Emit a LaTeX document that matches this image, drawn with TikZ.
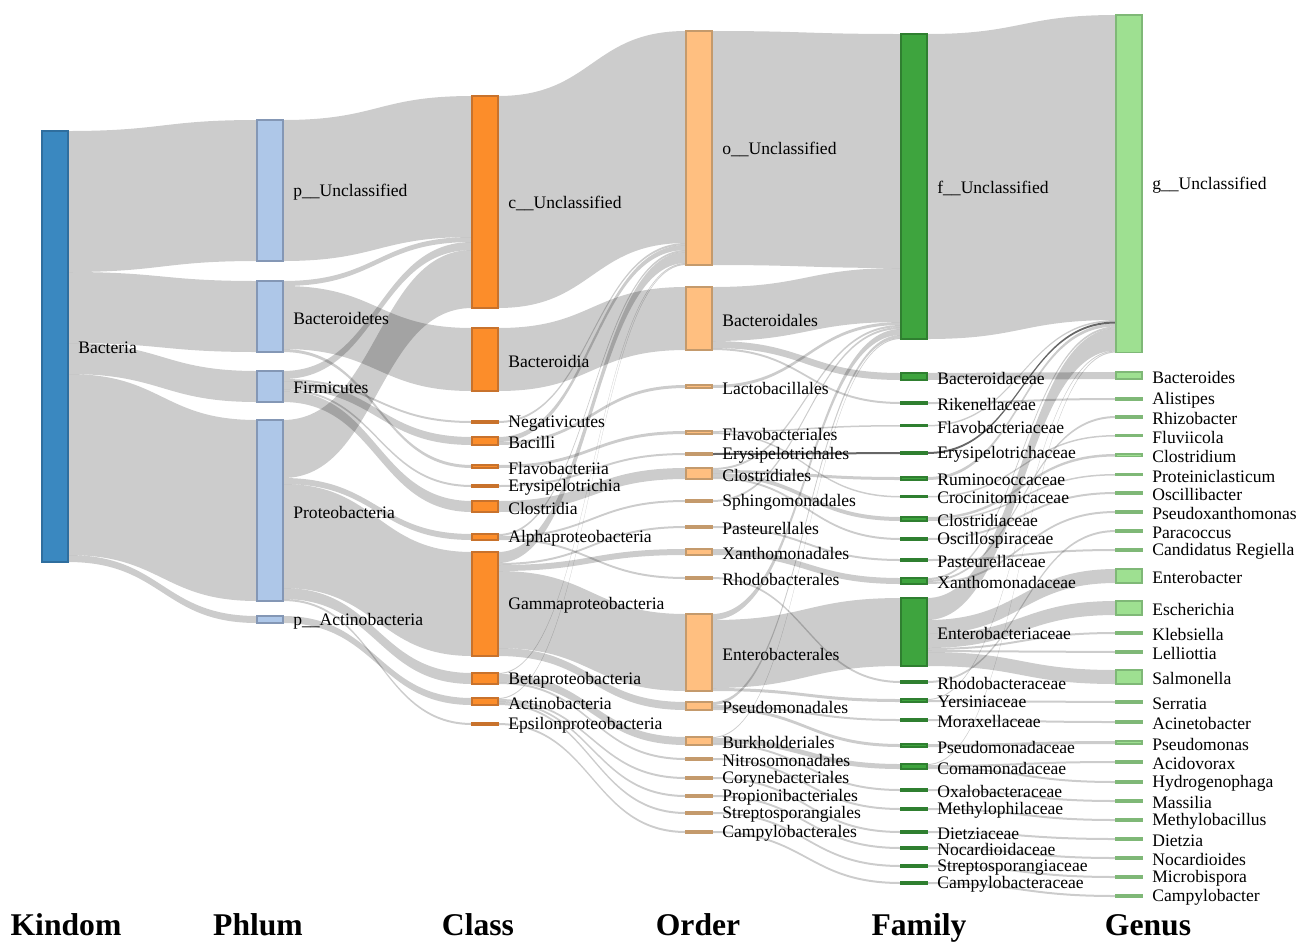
\documentclass[tikz,border=0pt]{standalone}
\usepackage{fontspec}
\setmainfont{Liberation Serif}
\usepackage{tikz}
\usetikzlibrary{calc}

\definecolor{kfill}{HTML}{3A88C0}\definecolor{kline}{HTML}{2F6E9E}
\definecolor{pfill}{HTML}{AEC7E8}\definecolor{pline}{HTML}{8497B5}
\definecolor{cfill}{HTML}{FC8D2A}\definecolor{cline}{HTML}{C8722C}
\definecolor{ofill}{HTML}{FFBF80}\definecolor{oline}{HTML}{C49A6C}
\definecolor{ffill}{HTML}{3EA43E}\definecolor{fline}{HTML}{2F7F30}
\definecolor{gfill}{HTML}{9EE091}\definecolor{gline}{HTML}{7FB877}

\pgfdeclarelayer{flows}
\pgfsetlayers{flows,main}

\tikzset{
  taxbar/.style={draw, inner sep=0pt, outer sep=0pt, minimum width=0.52cm, line width=0.6pt},
  kgd/.style={taxbar, fill=kfill, draw=kline},
  phy/.style={taxbar, fill=pfill, draw=pline},
  cls/.style={taxbar, fill=cfill, draw=cline},
  ord/.style={taxbar, fill=ofill, draw=oline},
  fam/.style={taxbar, fill=ffill, draw=fline},
  gen/.style={taxbar, fill=gfill, draw=gline},
  lbl/.style={anchor=west, inner sep=0pt, font=\fontsize{10}{12}\selectfont},
  ttl/.style={anchor=base, inner sep=0pt, font=\fontsize{18}{20}\selectfont\bfseries},
  flowfill/.style={fill=black, fill opacity=0.2},
  hl/.style={fill opacity=0.6},
}

% bar + label: style, name, x, top, height, text
\newcommand\taxon[6]{%
  \node[#1, minimum height={#5*0.02cm}, anchor=north west] (#2) at (#3,#4) {};
  \node[lbl] (#2-t) at ([xshift=0.2cm, yshift=-0.03cm]#2.east) {#6};}

% band: [style], source, offset, target, offset, width
\newcommand\flow[6][]{%
  \fill[flowfill,#1] ($(#2.north east)+(0,#3)$) .. controls +(94.5,0) and +(-94.5,0) ..
    ($(#4.north west)+(0,#5)$) -- ++(0,#6) .. controls +(-94.5,0) and +(94.5,0) ..
    ($(#2.north east)+(0,#3+#6)$) -- cycle;}

\begin{document}
\begin{tikzpicture}[x=0.02cm, y=-0.02cm]
  \useasboundingbox (0,0) rectangle (1308,941);

  % kingdom
  \taxon{kgd}{bac}{42}{131}{431}{Bacteria}

  % phylum
  \taxon{phy}{pun}{257}{120}{141}{p\_\_Unclassified}
  \taxon{phy}{bdt}{257}{281}{71}{Bacteroidetes}
  \taxon{phy}{fir}{257}{371}{31}{Firmicutes}
  \taxon{phy}{pro}{257}{420}{181}{Proteobacteria}
  \taxon{phy}{pac}{257}{616}{7}{p\_\_Actinobacteria}

  % class
  \taxon{cls}{cun}{472}{96}{212}{c\_\_Unclassified}
  \taxon{cls}{bia}{472}{328}{63}{Bacteroidia}
  \taxon{cls}{neg}{472}{421}{2}{Negativicutes}
  \taxon{cls}{bcl}{472}{437}{8}{Bacilli}
  \taxon{cls}{fla}{472}{465}{3}{Flavobacteriia}
  \taxon{cls}{ery}{472}{485}{2}{Erysipelotrichia}
  \taxon{cls}{clo}{472}{501}{11}{Clostridia}
  \taxon{cls}{alp}{472}{534}{6}{Alphaproteobacteria}
  \taxon{cls}{gam}{472}{552}{104}{Gammaproteobacteria}
  \taxon{cls}{bet}{472}{673}{11}{Betaproteobacteria}
  \taxon{cls}{act}{472}{698}{7}{Actinobacteria}
  \taxon{cls}{eps}{472}{723}{2}{Epsilonproteobacteria}

  % order
  \taxon{ord}{oun}{686}{31}{234}{o\_\_Unclassified}
  \taxon{ord}{bal}{686}{287}{63}{Bacteroidales}
  \taxon{ord}{lac}{686}{385}{3}{Lactobacillales}
  \taxon{ord}{flv}{686}{431}{3}{Flavobacteriales}
  \taxon{ord}{erl}{686}{453}{2}{Erysipelotrichales}
  \taxon{ord}{cll}{686}{468}{11}{Clostridiales}
  \taxon{ord}{sph}{686}{500}{2}{Sphingomonadales}
  \taxon{ord}{pas}{686}{526}{2}{Pasteurellales}
  \taxon{ord}{xan}{686}{549}{6}{Xanthomonadales}
  \taxon{ord}{rho}{686}{577}{2}{Rhodobacterales}
  \taxon{ord}{ent}{686}{614}{77}{Enterobacterales}
  \taxon{ord}{psm}{686}{702}{8}{Pseudomonadales}
  \taxon{ord}{bur}{686}{737}{8}{Burkholderiales}
  \taxon{ord}{nit}{686}{758}{2}{Nitrosomonadales}
  \taxon{ord}{cor}{686}{777}{2}{Corynebacteriales}
  \taxon{ord}{ppb}{686}{795}{2}{Propionibacteriales}
  \taxon{ord}{stp}{686}{812}{2}{Streptosporangiales}
  \taxon{ord}{cpl}{686}{831}{2}{Campylobacterales}

  % family
  \taxon{fam}{fun}{901}{34}{305}{f\_\_Unclassified}
  \taxon{fam}{bcd}{901}{373}{7}{Bacteroidaceae}
  \taxon{fam}{rik}{901}{402}{2}{Rikenellaceae}
  \taxon{fam}{flc}{901}{425}{1.5}{Flavobacteriaceae}
  \taxon{fam}{erc}{901}{452}{2}{Erysipelotrichaceae}
  \taxon{fam}{rum}{901}{477}{3}{Ruminococcaceae}
  \taxon{fam}{cro}{901}{496}{1.5}{Crocinitomicaceae}
  \taxon{fam}{clc}{901}{517}{4}{Clostridiaceae}
  \taxon{fam}{osc}{901}{538}{2}{Oscillospiraceae}
  \taxon{fam}{psc}{901}{559}{2}{Pasteurellaceae}
  \taxon{fam}{xac}{901}{578}{6}{Xanthomonadaceae}
  \taxon{fam}{enc}{901}{598}{68}{Enterobacteriaceae}
  \taxon{fam}{rhc}{901}{681}{2}{Rhodobacteraceae}
  \taxon{fam}{yer}{901}{699}{3}{Yersiniaceae}
  \taxon{fam}{mor}{901}{719}{2}{Moraxellaceae}
  \taxon{fam}{pmc}{901}{744}{3}{Pseudomonadaceae}
  \taxon{fam}{com}{901}{764}{5}{Comamonadaceae}
  \taxon{fam}{oxa}{901}{789}{2}{Oxalobacteraceae}
  \taxon{fam}{mep}{901}{808}{2}{Methylophilaceae}
  \taxon{fam}{die}{901}{831}{2}{Dietziaceae}
  \taxon{fam}{noc}{901}{847}{2}{Nocardioidaceae}
  \taxon{fam}{stc}{901}{865}{2}{Streptosporangiaceae}
  \taxon{fam}{cac}{901}{882}{2}{Campylobacteraceae}

  % genus
  \taxon{gen}{gun}{1116}{15}{337.5}{g\_\_Unclassified}
  \taxon{gen}{bds}{1116}{372}{7}{Bacteroides}
  \taxon{gen}{ali}{1116}{398}{2}{Alistipes}
  \taxon{gen}{rhi}{1116}{416}{2}{Rhizobacter}
  \taxon{gen}{flu}{1116}{435}{1.5}{Fluviicola}
  \taxon{gen}{cld}{1116}{454}{2.5}{Clostridium}
  \taxon{gen}{prc}{1116}{474}{1.5}{Proteiniclasticum}
  \taxon{gen}{osb}{1116}{492}{2}{Oscillibacter}
  \taxon{gen}{pxa}{1116}{511}{2}{Pseudoxanthomonas}
  \taxon{gen}{par}{1116}{530}{2}{Paracoccus}
  \taxon{gen}{can}{1116}{549}{2}{Candidatus Regiella}
  \taxon{gen}{enb}{1116}{569}{14}{Enterobacter}
  \taxon{gen}{esc}{1116}{601}{14}{Escherichia}
  \taxon{gen}{kle}{1116}{632}{2}{Klebsiella}
  \taxon{gen}{lel}{1116}{651}{2}{Lelliottia}
  \taxon{gen}{sal}{1116}{670}{14}{Salmonella}
  \taxon{gen}{ser}{1116}{701}{2}{Serratia}
  \taxon{gen}{aci}{1116}{721}{2}{Acinetobacter}
  \taxon{gen}{psd}{1116}{741}{3}{Pseudomonas}
  \taxon{gen}{acv}{1116}{761}{2}{Acidovorax}
  \taxon{gen}{hyd}{1116}{781}{2}{Hydrogenophaga}
  \taxon{gen}{mas}{1116}{800}{2}{Massilia}
  \taxon{gen}{mtb}{1116}{819}{2}{Methylobacillus}
  \taxon{gen}{dtz}{1116}{838}{2}{Dietzia}
  \taxon{gen}{ncd}{1116}{857}{2}{Nocardioides}
  \taxon{gen}{mic}{1116}{876}{2}{Microbispora}
  \taxon{gen}{cmp}{1116}{895}{2}{Campylobacter}

  % column titles
  \node[ttl] (tKin) at (66,935) {Kindom};
  \node[ttl] (tPhy) at (258,935) {Phlum};
  \node[ttl] (tCla) at (478,935) {Class};
  \node[ttl] (tOrd) at (698,935) {Order};
  \node[ttl] (tFam) at (919,935) {Family};
  \node[ttl] (tGen) at (1148,935) {Genus};

  \begin{pgfonlayer}{flows}
  % kingdom -> phylum
  \flow{bac}{0}{pun}{0}{141}
  \flow{bac}{141}{bdt}{0}{71}
  \flow{bac}{212}{fir}{0}{31}
  \flow{bac}{243}{pro}{0}{181}
  \flow{bac}{424}{pac}{0}{7}
  % phylum -> class
  \flow{pun}{0}{cun}{0}{141}
  \flow{bdt}{0}{cun}{141}{5}
  \flow{bdt}{5}{bia}{0}{63}
  \flow{bdt}{68}{fla}{0}{3}
  \flow{fir}{0}{cun}{146}{8}
  \flow{fir}{8}{neg}{0}{2}
  \flow{fir}{10}{bcl}{0}{8}
  \flow{fir}{18}{ery}{0}{2}
  \flow{fir}{20}{clo}{0}{11}
  \flow{pro}{0}{cun}{154}{58}
  \flow{pro}{58}{alp}{0}{6}
  \flow{pro}{64}{gam}{0}{104}
  \flow{pro}{168}{bet}{0}{11}
  \flow{pro}{179}{eps}{0}{2}
  \flow{pac}{0}{act}{0}{7}
  % class -> order
  \flow{cun}{0}{oun}{0}{212}
  \flow{bia}{0}{bal}{0}{63}
  \flow{neg}{0}{oun}{212}{2}
  \flow{bcl}{0}{oun}{214}{5}
  \flow{bcl}{5}{lac}{0}{3}
  \flow{fla}{0}{flv}{0}{3}
  \flow{ery}{0}{erl}{0}{2}
  \flow{clo}{0}{cll}{0}{11}
  \flow{alp}{0}{oun}{219}{2}
  \flow{alp}{2}{sph}{0}{2}
  \flow{alp}{4}{rho}{0}{2}
  \flow{gam}{0}{oun}{221}{11}
  \flow{gam}{11}{pas}{0}{2}
  \flow{gam}{13}{xan}{0}{6}
  \flow{gam}{19}{ent}{0}{77}
  \flow{gam}{96}{psm}{0}{8}
  \flow{bet}{0}{oun}{232}{1}
  \flow{bet}{1}{bur}{0}{8}
  \flow{bet}{9}{nit}{0}{2}
  \flow{act}{0}{oun}{233}{1}
  \flow{act}{1}{cor}{0}{2}
  \flow{act}{3}{ppb}{0}{2}
  \flow{act}{5}{stp}{0}{2}
  \flow{eps}{0}{cpl}{0}{2}
  % order -> family
  \flow{oun}{0}{fun}{0}{234}
  \flow{bal}{0}{fun}{234}{54}
  \flow{bal}{54}{bcd}{0}{7}
  \flow{bal}{61}{rik}{0}{2}
  \flow{lac}{0}{fun}{288}{3}
  \flow{flv}{0}{flc}{0}{1.5}
  \flow{flv}{1.5}{cro}{0}{1.5}
  \flow[hl]{erl}{0}{erc}{0}{2}
  \flow{cll}{0}{fun}{291}{2}
  \flow{cll}{2}{rum}{0}{3}
  \flow{cll}{5}{clc}{0}{4}
  \flow{cll}{9}{osc}{0}{2}
  \flow{sph}{0}{fun}{293}{2}
  \flow{pas}{0}{psc}{0}{2}
  \flow{xan}{0}{xac}{0}{6}
  \flow{rho}{0}{rhc}{0}{2}
  \flow{ent}{0}{fun}{295}{6}
  \flow{ent}{6}{enc}{0}{68}
  \flow{ent}{74}{yer}{0}{3}
  \flow{psm}{0}{fun}{301}{3}
  \flow{psm}{3}{mor}{0}{2}
  \flow{psm}{5}{pmc}{0}{3}
  \flow{bur}{0}{fun}{304}{1}
  \flow{bur}{1}{com}{0}{5}
  \flow{bur}{6}{oxa}{0}{2}
  \flow{nit}{0}{mep}{0}{2}
  \flow{cor}{0}{die}{0}{2}
  \flow{ppb}{0}{noc}{0}{2}
  \flow{stp}{0}{stc}{0}{2}
  \flow{cpl}{0}{cac}{0}{2}
  % family -> genus
  \flow{fun}{0}{gun}{0}{305}
  \flow{bcd}{0}{bds}{0}{7}
  \flow{rik}{0}{ali}{0}{2}
  \flow{flc}{0}{gun}{305}{1.5}
  \flow[hl]{erc}{0}{gun}{306.5}{2}
  \flow{rum}{0}{gun}{308.5}{3}
  \flow{cro}{0}{flu}{0}{1.5}
  \flow{clc}{0}{cld}{0}{2.5}
  \flow{clc}{2.5}{prc}{0}{1.5}
  \flow{osc}{0}{osb}{0}{2}
  \flow{psc}{0}{can}{0}{2}
  \flow{xac}{0}{gun}{311.5}{2}
  \flow{xac}{2}{rhi}{0}{2}
  \flow{xac}{4}{pxa}{0}{2}
  \flow{enc}{0}{gun}{313.5}{22}
  \flow{enc}{22}{enb}{0}{14}
  \flow{enc}{36}{esc}{0}{14}
  \flow{enc}{50}{kle}{0}{2}
  \flow{enc}{52}{lel}{0}{2}
  \flow{enc}{54}{sal}{0}{14}
  \flow{rhc}{0}{par}{0}{2}
  \flow{yer}{0}{gun}{335.5}{1}
  \flow{yer}{1}{ser}{0}{2}
  \flow{mor}{0}{aci}{0}{2}
  \flow{pmc}{0}{psd}{0}{3}
  \flow{com}{0}{gun}{336.5}{1}
  \flow{com}{1}{acv}{0}{2}
  \flow{com}{3}{hyd}{0}{2}
  \flow{oxa}{0}{mas}{0}{2}
  \flow{mep}{0}{mtb}{0}{2}
  \flow{die}{0}{dtz}{0}{2}
  \flow{noc}{0}{ncd}{0}{2}
  \flow{stc}{0}{mic}{0}{2}
  \flow{cac}{0}{cmp}{0}{2}
  \end{pgfonlayer}
\end{tikzpicture}
\end{document}
